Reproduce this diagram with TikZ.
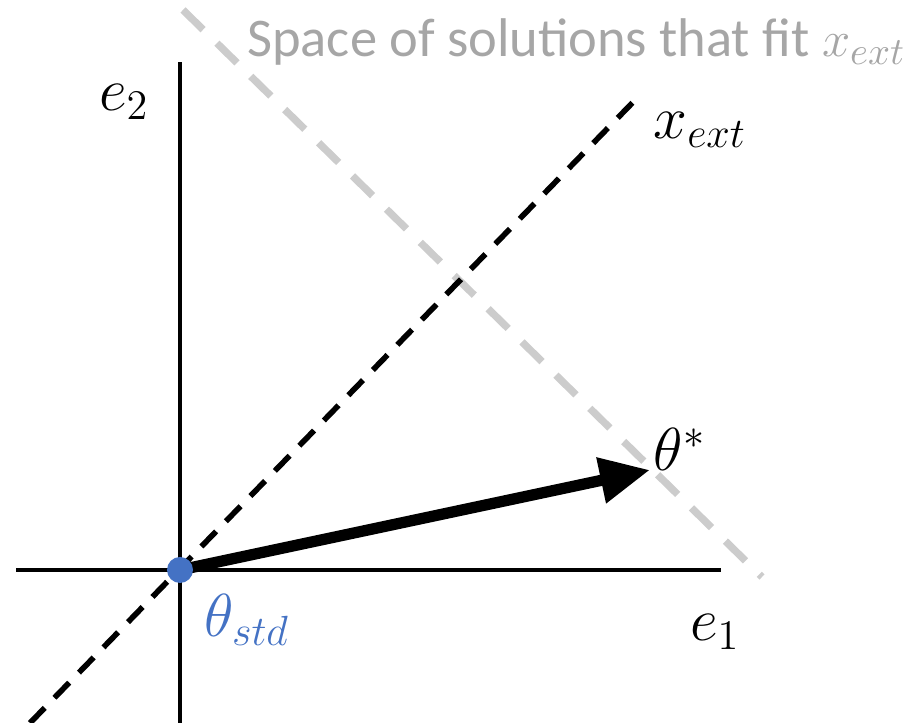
\documentclass[tikz,border=0pt]{standalone}
\usepackage{fontspec}
\setmainfont{Carlito}
\usepackage{xcolor}
\usetikzlibrary{arrows.meta, positioning}
\definecolor{cDot}{HTML}{4472C4}
\definecolor{cFit}{HTML}{A6A6A6}
\definecolor{cFitLine}{HTML}{CCCCCC}

\begin{document}
\begin{tikzpicture}[every node/.style={font=\fontsize{16.5}{19}\selectfont, inner sep=1pt},
  axis/.style={line width=0.9pt},
  ext/.style={line width=1.6pt, dash pattern=on 6pt off 4pt},
  fit/.style={line width=2.1pt, draw=cFitLine, dash pattern=on 8pt off 5.5pt},
  vec/.style={-{Triangle[length=5mm, width=4.4mm]}, line width=3.2pt}]
  \useasboundingbox (0,0) rectangle (9.18,7.23);
  \coordinate (O) at (1.80,1.53);
  \coordinate (xl) at (0.16,1.53);
  \coordinate (xr) at (7.21,1.53);
  \coordinate (yb) at (1.80,0);
  \coordinate (yt) at (1.80,6.61);
  \coordinate (extb) at (0.30,0);
  \coordinate (extt) at (6.40,6.28);
  \coordinate (fitt) at (1.83,7.13);
  \coordinate (fitb) at (7.62,1.46);
  \coordinate (thstar) at (6.50,2.53);
  \draw[axis] (xl) -- (xr);
  \draw[axis] (yb) -- (yt);
  \draw[fit] (fitt) -- (fitb);
  \draw[ext] (extb) -- (extt);
  \draw[vec] (O) -- (thstar);
  \fill[cDot] (O) circle (0.13);
  \node (e2) at (1.24,6.21) {$e_2$};
  \node (e1) at (7.15,0.91) {$e_1$};
  \node (xext) at (7.0,5.93) {$x_{ext}$};
  \node (thlab) at (6.80,2.74) {$\theta^*$};
  \node[text=cDot] (thstd) at (2.47,1.03) {$\theta_{std}$};
  \node[text=cFit, anchor=east, font=\fontsize{15.5}{18}\selectfont] (space) at (9.10,6.81) {Space of solutions that fit $x_{ext}$};
\end{tikzpicture}
\end{document}
